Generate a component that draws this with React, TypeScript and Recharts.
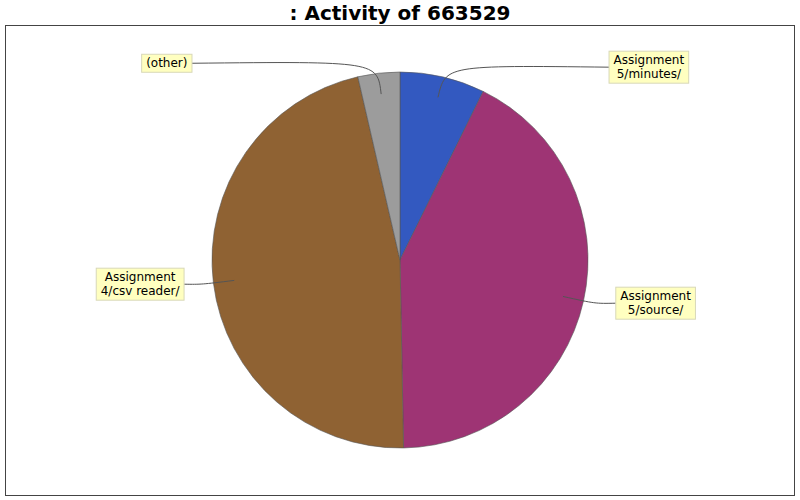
import React from "react";
import { PieChart, Pie, Cell } from "recharts";

const categories = ["Assignment\n5/minutes/", "Assignment\n5/source/", "Assignment\n4/csv reader/", "(other)"];
const values = [7.3, 42.4, 46.7, 3.6];
const colors = ["#3359c0", "#9e3474", "#8f6233", "#9c9c9c"];
const title = ": Activity of 663529";

const data = categories.map((name, i) => ({ name, value: values[i] }));

const RADIAN = Math.PI / 180;
const FONT = "12px 'DejaVu Sans'";

let ctx: CanvasRenderingContext2D | null = null;
function measure(t: string): number {
  if (!ctx) {
    const c = document.createElement("canvas");
    ctx = c.getContext("2d");
  }
  if (!ctx) return t.length * 7;
  ctx.font = FONT;
  return ctx.measureText(t).width;
}

const renderLabel = (props: any) => {
  const { cx, cy, midAngle, outerRadius, payload } = props;
  const cos = Math.cos(midAngle * RADIAN);
  const sin = Math.sin(midAngle * RADIAN);
  const ax = cx + (outerRadius - 21) * cos;
  const ay = cy - (outerRadius - 21) * sin;
  const ex = cx + (outerRadius + 12) * cos;
  const ey = cy - (outerRadius + 12) * sin;
  const ly = cy - (outerRadius + 10) * sin;
  const right = cos >= 0;
  const lines: string[] = String(payload.name).split("\n");
  const w = Math.max(...lines.map(measure)) + 9;
  const lh = 14;
  const h = lines.length * lh + 4;
  const off = 207 + 9 * Math.abs(cos);
  const edge = right ? cx + off : cx - off;
  const bx = right ? edge : edge - w;
  const by = ly - h / 2;
  const tx = bx + w / 2;
  return (
    <g>
      <path
        d={`M${ax},${ay} C${ex},${ey} ${ex},${ey} ${edge},${ly}`}
        fill="none"
        stroke="#555"
        strokeWidth={1}
      />
      <rect x={bx} y={by} width={w} height={h} fill="#ffffc0" stroke="#d8d8b8" strokeWidth={1} />
      {lines.map((l, i) => (
        <text
          key={i}
          x={tx}
          y={by + 2 + lh * i + 11}
          textAnchor="middle"
          fontSize={12}
          fontFamily="'DejaVu Sans'"
          fill="#000"
        >
          {l}
        </text>
      ))}
    </g>
  );
};

export default function App() {
  return (
    <div style={{ position: "absolute", left: 0, top: 0, width: 800, height: 500, background: "#fff" }}>
      <div
        style={{
          position: "absolute",
          left: 0,
          top: 1,
          width: 800,
          textAlign: "center",
          fontFamily: "'DejaVu Sans'",
          fontWeight: "bold",
          fontSize: 20,
          lineHeight: "24px",
        }}
      >
        {title}
      </div>
      <div
        style={{
          position: "absolute",
          left: 5,
          top: 25,
          width: 790,
          height: 471,
          boxSizing: "border-box",
          border: "1px solid #444",
        }}
      />
      <div style={{ position: "absolute", left: 0, top: 0 }}>
        <PieChart width={800} height={500} margin={{ top: 0, right: 0, bottom: 0, left: 0 }}>
          <Pie
            data={data}
            dataKey="value"
            nameKey="name"
            cx={400}
            cy={260}
            outerRadius={188}
            startAngle={90}
            endAngle={-270}
            stroke="#555"
            strokeWidth={0.6}
            label={renderLabel}
            labelLine={false}
            isAnimationActive={false}
          >
            {data.map((d, i) => (
              <Cell key={d.name} fill={colors[i]} />
            ))}
          </Pie>
        </PieChart>
      </div>
    </div>
  );
}
